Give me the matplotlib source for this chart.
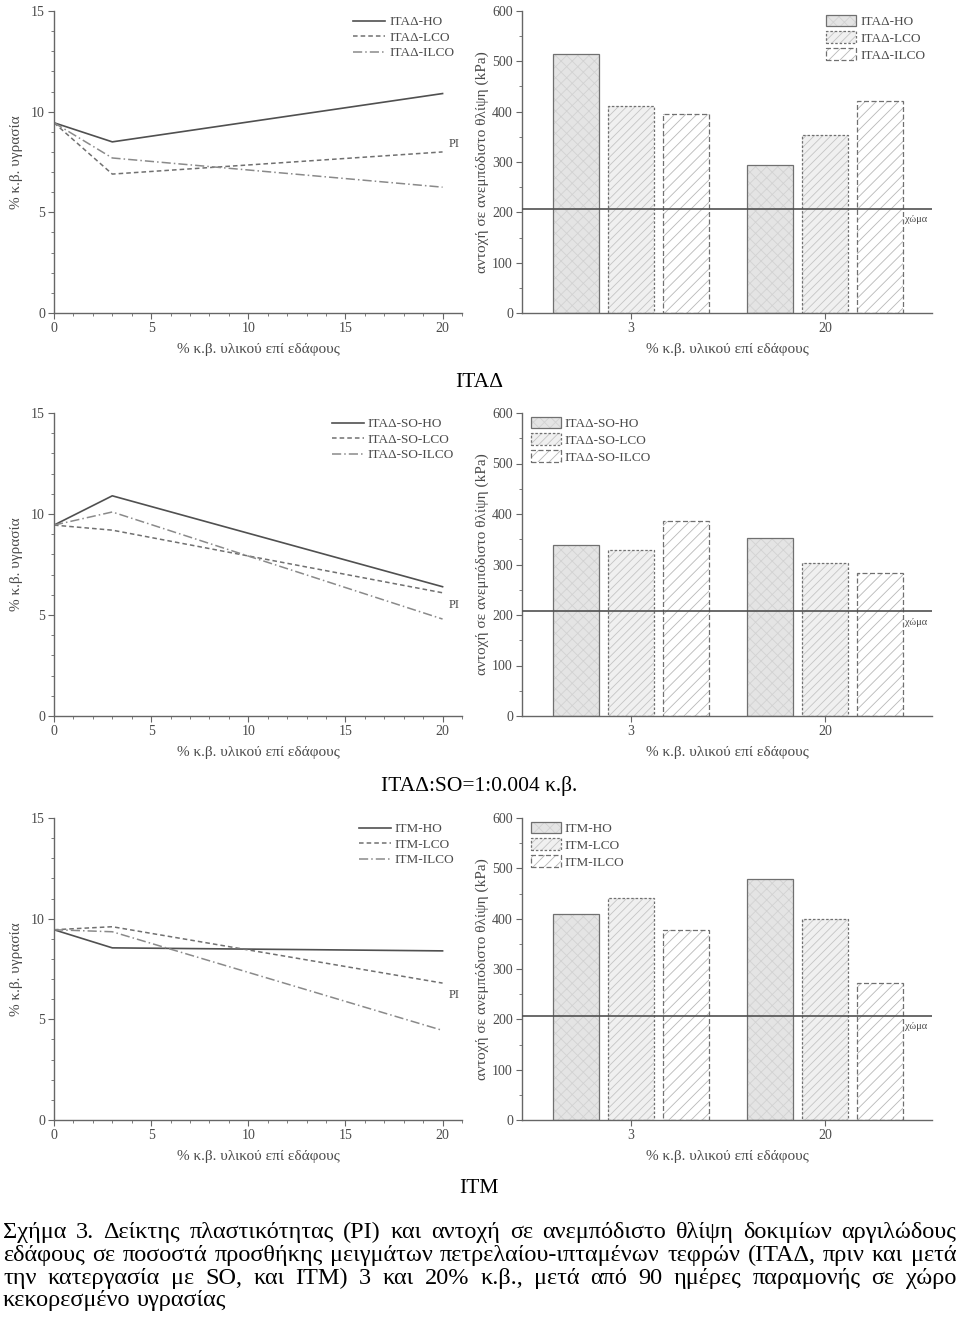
import matplotlib
matplotlib.use("Agg")
import matplotlib.pyplot as plt
from matplotlib.ticker import MultipleLocator

plt.rcParams["font.family"] = ["Liberation Serif", "DejaVu Serif"]
plt.rcParams["hatch.linewidth"] = 0.6

# % w/w additive (line charts)
PCT = [0, 3, 20]
# plasticity index PI (% w/w moisture)
ITAD_HO = [9.45, 8.5, 10.9]
ITAD_LCO = [9.45, 6.9, 8.0]
ITAD_ILCO = [9.45, 7.7, 6.25]
ITADSO_HO = [9.45, 10.9, 6.4]
ITADSO_LCO = [9.45, 9.2, 6.1]
ITADSO_ILCO = [9.45, 10.1, 4.8]
ITM_HO = [9.45, 8.55, 8.4]
ITM_LCO = [9.45, 9.6, 6.8]
ITM_ILCO = [9.45, 9.35, 4.45]

# unconfined compressive strength (kPa), groups 3 and 20 %
GROUPS = ["3", "20"]
UCS_ITAD_HO = [515, 294]
UCS_ITAD_LCO = [411, 353]
UCS_ITAD_ILCO = [396, 422]
UCS_ITADSO_HO = [338, 353]
UCS_ITADSO_LCO = [328, 303]
UCS_ITADSO_ILCO = [387, 284]
UCS_ITM_HO = [410, 478]
UCS_ITM_LCO = [442, 399]
UCS_ITM_ILCO = [377, 273]
SOIL_UCS = 207

W, H = 960, 1323
fig = plt.figure(figsize=(W / 100, H / 100), dpi=100)
fig.patch.set_facecolor("white")

AX_COL = "#666666"
TXT_COL = "#4a4a4a"
LBL_SIZE = 11
TICK_SIZE = 10
LEG_SIZE = 9.5


def add_ax(left, top, right, bottom):
    return fig.add_axes([left / W, 1 - bottom / H, (right - left) / W, (bottom - top) / H])


def style_ax(ax):
    for s in ["top", "right"]:
        ax.spines[s].set_visible(False)
    for s in ["left", "bottom"]:
        ax.spines[s].set_color(AX_COL)
        ax.spines[s].set_linewidth(1.0)
    ax.tick_params(which="both", direction="out", colors=AX_COL, labelcolor=TXT_COL,
                   labelsize=TICK_SIZE, pad=2.5)
    ax.tick_params(which="major", length=4)
    ax.tick_params(which="minor", length=2.5)


def line_chart(ax, names, series, pi_y):
    styles = [("-", "#505050", 1.2), ((0, (3, 2)), "#707070", 1.1), ((0, (6, 2, 1, 2)), "#8a8a8a", 1.1)]
    for name, ys, (ls, c, lw) in zip(names, series, styles):
        ax.plot(PCT, ys, linestyle=ls, color=c, linewidth=lw, label=name)
    ax.set_xlim(0, 21)
    ax.set_ylim(0, 15)
    ax.xaxis.set_major_locator(MultipleLocator(5))
    ax.xaxis.set_minor_locator(MultipleLocator(1))
    ax.yaxis.set_major_locator(MultipleLocator(5))
    ax.yaxis.set_minor_locator(MultipleLocator(1))
    style_ax(ax)
    ax.set_xlabel("% κ.β. υλικού επί εδάφους", fontsize=LBL_SIZE, color=TXT_COL, labelpad=6)
    ax.set_ylabel("% κ.β. υγρασία", fontsize=LBL_SIZE, color=TXT_COL, labelpad=6)
    ax.text(20.3, pi_y, "PI", fontsize=9, color=TXT_COL, va="center")
    ax.legend(loc="upper right", bbox_to_anchor=(1.0, 1.01), frameon=False, fontsize=LEG_SIZE,
              handlelength=2.4, handletextpad=0.3, labelspacing=0.25, borderaxespad=0.2,
              labelcolor=TXT_COL)


def bar_chart(ax, names, series, legend_loc):
    pos = [0, 1]
    offs = [-0.283, 0.0, 0.283]
    width = 0.24
    looks = [
        ("#e4e4e4", "xxx", "#d2d2d2", "-"),
        ("#f0f0f0", "////", "#c4c4c4", (0, (2, 1.5))),
        ("white", "///", "#b8b8b8", (0, (4, 2))),
    ]
    handles = []
    for name, vals, off, (fc, hatch, hc, els) in zip(names, series, offs, looks):
        xs = [p + off for p in pos]
        b_fill = ax.bar(xs, vals, width, color=fc, edgecolor=hc, hatch=hatch, linewidth=0)
        b_edge = ax.bar(xs, vals, width, fill=False, edgecolor="#707070", linewidth=0.9,
                        linestyle=els, label=name)
        handles.append((b_fill, b_edge))
    ax.axhline(SOIL_UCS, color="#505050", linewidth=1.2, zorder=5)
    ax.set_xlim(-0.562, 1.552)
    ax.set_ylim(0, 600)
    ax.set_xticks(pos)
    ax.set_xticklabels(GROUPS)
    ax.yaxis.set_major_locator(MultipleLocator(100))
    ax.yaxis.set_minor_locator(MultipleLocator(50))
    style_ax(ax)
    ax.text(1.47, SOIL_UCS - 22, "χώμα", fontsize=7.5, color=TXT_COL, ha="center", va="center")
    ax.set_xlabel("% κ.β. υλικού επί εδάφους", fontsize=LBL_SIZE, color=TXT_COL, labelpad=6)
    ax.set_ylabel("αντοχή σε ανεμπόδιστο θλίψη (kPa)", fontsize=LBL_SIZE, color=TXT_COL, labelpad=2)
    kw = dict(frameon=False, fontsize=LEG_SIZE, handlelength=2.3, handleheight=0.95,
              handletextpad=0.3, labelspacing=0.28, borderaxespad=0.1, labelcolor=TXT_COL)
    if legend_loc == "right":
        ax.legend(handles, names, loc="upper right", bbox_to_anchor=(1.0, 1.01), **kw)
    else:
        ax.legend(handles, names, loc="upper left", bbox_to_anchor=(0.005, 1.01), **kw)


rows = [
    (11, 313, ["ΙΤΑΔ-HO", "ΙΤΑΔ-LCO", "ΙΤΑΔ-ILCO"], [ITAD_HO, ITAD_LCO, ITAD_ILCO],
     [UCS_ITAD_HO, UCS_ITAD_LCO, UCS_ITAD_ILCO], 8.4, "right"),
    (413, 716, ["ΙΤΑΔ-SO-HO", "ΙΤΑΔ-SO-LCO", "ΙΤΑΔ-SO-ILCO"], [ITADSO_HO, ITADSO_LCO, ITADSO_ILCO],
     [UCS_ITADSO_HO, UCS_ITADSO_LCO, UCS_ITADSO_ILCO], 5.5, "left"),
    (818, 1120, ["ΙΤΜ-HO", "ΙΤΜ-LCO", "ΙΤΜ-ILCO"], [ITM_HO, ITM_LCO, ITM_ILCO],
     [UCS_ITM_HO, UCS_ITM_LCO, UCS_ITM_ILCO], 6.2, "left"),
]
for top, bottom, names, pi, ucs, pi_y, loc in rows:
    line_chart(add_ax(54, top, 462, bottom), names, pi, pi_y)
    bar_chart(add_ax(522, top, 932, bottom), names, ucs, loc)

# panel captions
for label, y in [("ΙΤΑΔ", 387), ("ΙΤΑΔ:SO=1:0.004 κ.β.", 791), ("ΙΤΜ", 1193)]:
    fig.text(479 / W, 1 - y / H, label, fontsize=15.5, ha="center", va="baseline", color="black")

# justified figure caption
caption = [
    "Σχήμα 3. Δείκτης πλαστικότητας (PI) και αντοχή σε ανεμπόδιστο θλίψη δοκιμίων αργιλώδους",
    "εδάφους σε ποσοστά προσθήκης μειγμάτων πετρελαίου-ιπταμένων τεφρών (ΙΤΑΔ, πριν και μετά",
    "την κατεργασία με SO, και ΙΤΜ) 3 και 20% κ.β., μετά από 90 ημέρες παραμονής σε χώρο",
    "κεκορεσμένο υγρασίας",
]
CAP_SIZE = 17.5
baselines = [1238, 1261, 1284, 1306]
x0, x1 = 3, 956
renderer = fig.canvas.get_renderer()
space_w = fig.text(0, 0, "a a", fontsize=CAP_SIZE, alpha=0).get_window_extent(renderer).width - \
    fig.text(0, 0, "aa", fontsize=CAP_SIZE, alpha=0).get_window_extent(renderer).width
for i, (line, yb) in enumerate(zip(caption, baselines)):
    words = line.split(" ")
    texts = [fig.text(0, 1 - yb / H, w, fontsize=CAP_SIZE, va="baseline", ha="left") for w in words]
    widths = [t.get_window_extent(renderer).width for t in texts]
    if i < len(caption) - 1:
        gap = (x1 - x0 - sum(widths)) / (len(words) - 1)
    else:
        gap = space_w
    x = x0
    for t, w in zip(texts, widths):
        t.set_x(x / W)
        x += w + gap

fig.savefig("out.png", dpi=100, facecolor="white")
